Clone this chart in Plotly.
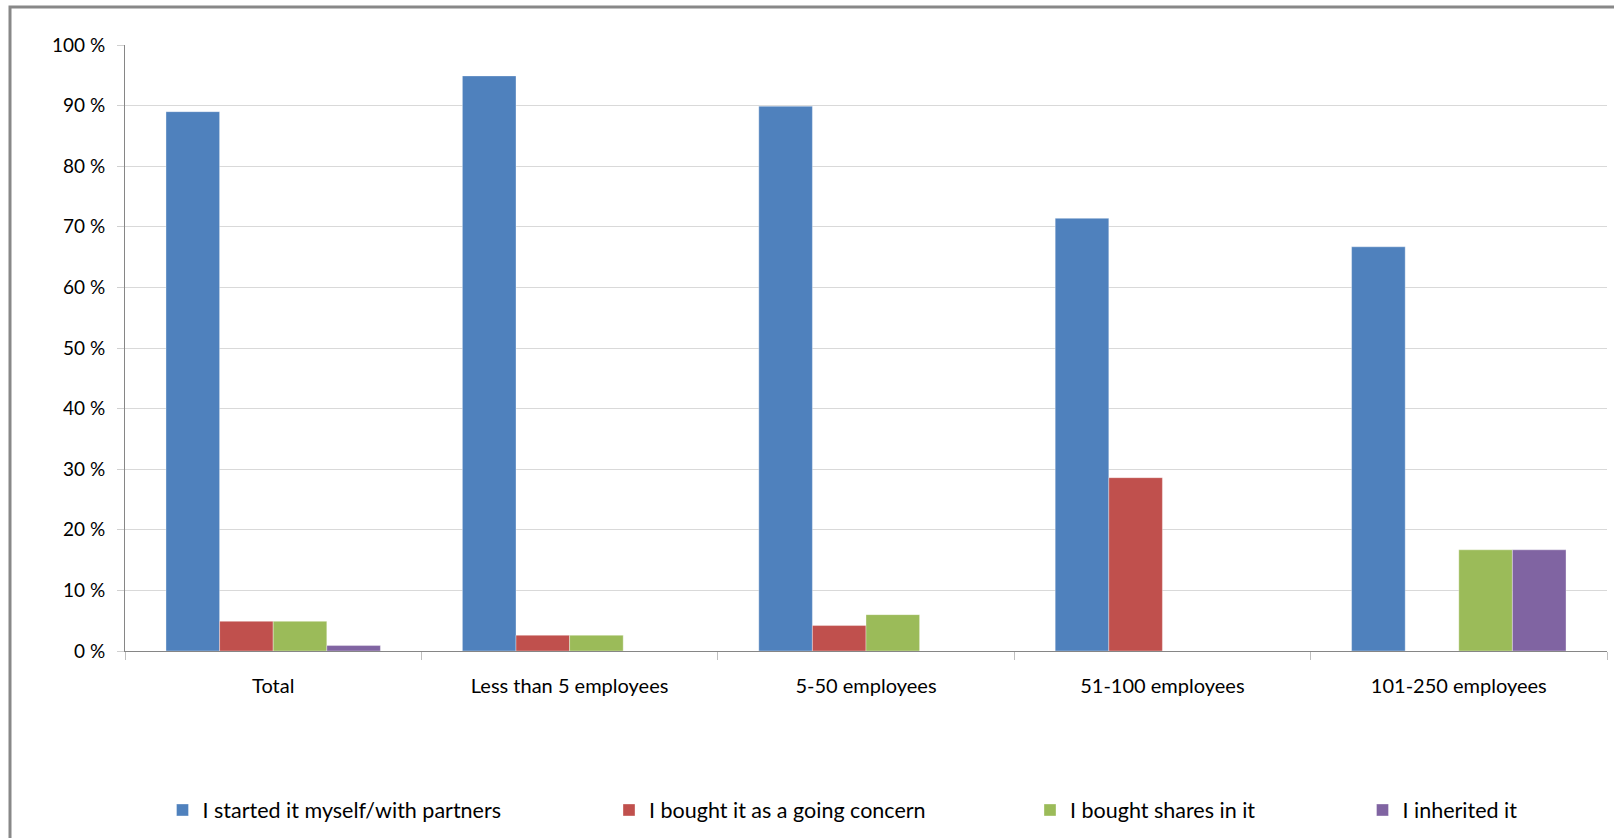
import plotly.graph_objects as go

categories = ["Total", "Less than 5 employees", "5-50 employees", "51-100 employees", "101-250 employees"]
series_names = ["I started it myself/with partners", "I bought it as a going concern",
                "I bought shares in it", "I inherited it"]
started = [89.0, 94.9, 89.9, 71.4, 66.7]
bought_concern = [4.9, 2.6, 4.2, 28.6, 0.0]
bought_shares = [4.9, 2.6, 6.0, 0.0, 16.7]
inherited = [0.9, 0.0, 0.0, 0.0, 16.7]
y_tick_vals = [0, 10, 20, 30, 40, 50, 60, 70, 80, 90, 100]
y_tick_text = ["0 %", "10 %", "20 %", "30 %", "40 %", "50 %", "60 %", "70 %", "80 %", "90 %", "100 %"]

colors = ["#4F81BD", "#C0504D", "#9BBB59", "#8064A2"]
values = [started, bought_concern, bought_shares, inherited]

W, H = 1614, 838
L, R, T, B = 125, 7, 45, 187
pw = W - L - R
ph = H - T - B

def px_x(p):
    return (p - L) / pw

def px_y(p):
    return (H - B - p) / ph

FONT = "Lato"

fig = go.Figure()
legend_ids = ["legend", "legend2", "legend3", "legend4"]
for i in range(4):
    fig.add_trace(go.Bar(
        x=categories, y=values[i], name=series_names[i],
        marker=dict(color=colors[i], line=dict(color="rgba(255,255,255,0.35)", width=1)),
        legend=legend_ids[i],
    ))

legend_px = [162.5, 609, 1030, 1362.5]
layout_legends = {}
for i, lid in enumerate(legend_ids):
    layout_legends[lid] = dict(
        x=px_x(legend_px[i]), xanchor="left",
        y=px_y(810), yanchor="middle",
        orientation="h", bgcolor="rgba(0,0,0,0)", borderwidth=0,
        font=dict(family=FONT, size=21.5, color="#000000"),
        itemclick=False, itemdoubleclick=False,
    )

fig.update_layout(
    width=W, height=H,
    margin=dict(l=L, r=R, t=T, b=B, pad=0),
    paper_bgcolor="white", plot_bgcolor="white",
    barmode="group", bargap=0.2766, bargroupgap=0,
    showlegend=True,
    font=dict(family=FONT, size=20, color="#000000"),
    **layout_legends,
)

fig.update_xaxes(
    type="category", tickson="boundaries", ticks="outside", ticklen=8,
    tickcolor="#bfbfbf", tickwidth=1,
    showline=True, linecolor="#868686", linewidth=1,
    showgrid=False, tickfont=dict(family=FONT, size=20, color="#000000"),
    ticklabelstandoff=17,
)
fig.update_yaxes(
    range=[0, 100], tickvals=y_tick_vals, ticktext=y_tick_text,
    ticks="outside", ticklen=7, tickcolor="#d0d0d0", tickwidth=1,
    showline=True, linecolor="#868686", linewidth=1,
    showgrid=True, gridcolor="#d9d9d9", gridwidth=1,
    zeroline=False,
    tickfont=dict(family=FONT, size=19, color="#000000"),
    ticklabelstandoff=8,
)

fig.add_shape(type="rect", xref="paper", yref="paper",
              x0=px_x(10), x1=px_x(1700), y0=px_y(900), y1=px_y(7),
              line=dict(color="#888888", width=3), fillcolor="rgba(0,0,0,0)", layer="below")

fig.write_html("out.html",
               config={"displayModeBar": False},
               post_script="document.body.style.margin='0';document.body.style.overflow='hidden';")
